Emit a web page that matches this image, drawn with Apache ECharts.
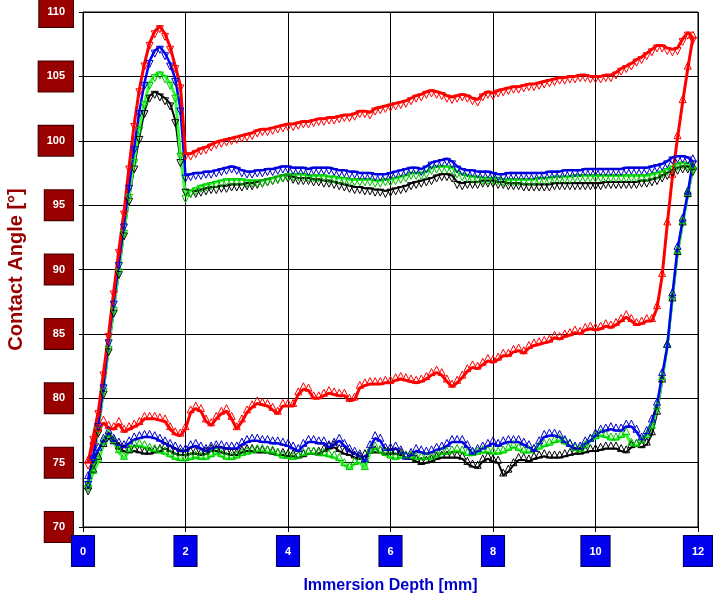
<!DOCTYPE html>
<html>
<head>
<meta charset="utf-8">
<script src="https://cdn.jsdelivr.net/npm/echarts@6/dist/echarts.min.js"></script>
<style>
  html, body { margin: 0; padding: 0; background: #fff; }
  #chart { width: 713px; height: 600px; }
</style>
</head>
<body>
<div id="chart"></div>
<script>
// immersion depth [mm], shared by every branch
var depth = [
  0.1, 0.2, 0.3, 0.4, 0.5, 0.6, 0.7, 0.8, 0.9, 1.0,
  1.1, 1.2, 1.3, 1.4, 1.5, 1.6, 1.7, 1.8, 1.9, 2.0,
  2.1, 2.2, 2.3, 2.4, 2.5, 2.6, 2.7, 2.8, 2.9, 3.0,
  3.1, 3.2, 3.3, 3.4, 3.5, 3.6, 3.7, 3.8, 3.9, 4.0,
  4.1, 4.2, 4.3, 4.4, 4.5, 4.6, 4.7, 4.8, 4.9, 5.0,
  5.1, 5.2, 5.3, 5.4, 5.5, 5.6, 5.7, 5.8, 5.9, 6.0,
  6.1, 6.2, 6.3, 6.4, 6.5, 6.6, 6.7, 6.8, 6.9, 7.0,
  7.1, 7.2, 7.3, 7.4, 7.5, 7.6, 7.7, 7.8, 7.9, 8.0,
  8.1, 8.2, 8.3, 8.4, 8.5, 8.6, 8.7, 8.8, 8.9, 9.0,
  9.1, 9.2, 9.3, 9.4, 9.5, 9.6, 9.7, 9.8, 9.9, 10.0,
  10.1, 10.2, 10.3, 10.4, 10.5, 10.6, 10.7, 10.8, 10.9, 11.0,
  11.1, 11.2, 11.3, 11.4, 11.5, 11.6, 11.7, 11.8, 11.9
];

// upper branch (down triangles) and lower branch (up triangles) per run
var redUp = [
  75.0, 77.0, 79.0, 82.0, 85.0, 88.3, 91.5, 94.5, 98.0, 101.3,
  104.0, 106.0, 107.6, 108.5, 108.9, 108.3, 107.3, 105.8, 104.3, 99.0,
  99.0, 99.2, 99.4, 99.5, 99.7, 99.9, 100.0, 100.1, 100.2, 100.3,
  100.4, 100.5, 100.6, 100.8, 100.9, 100.9, 101.0, 101.1, 101.2, 101.3,
  101.3, 101.4, 101.5, 101.5, 101.6, 101.7, 101.7, 101.8, 101.8, 101.9,
  102.0, 102.0, 102.1, 102.3, 102.3, 102.2, 102.5, 102.6, 102.7, 102.8,
  102.9, 103.0, 103.1, 103.3, 103.5, 103.6, 103.8, 103.9, 103.8, 103.7,
  103.5, 103.4, 103.5, 103.6, 103.5, 103.3, 103.2, 103.6, 103.8, 103.7,
  103.9, 104.0, 104.1, 104.2, 104.2, 104.3, 104.4, 104.4, 104.5, 104.6,
  104.7, 104.8, 104.9, 104.9, 105.0, 105.0, 105.1, 105.1, 105.0, 105.0,
  105.0, 105.1, 105.1, 105.3, 105.6, 105.8, 106.0, 106.3, 106.5, 106.8,
  107.1, 107.4, 107.4, 107.2, 107.1, 107.2, 107.9, 108.4, 108.0
];
var redLow = [
  75.0, 76.5, 77.5, 78.1, 77.7, 77.6, 78.0, 77.4, 77.6, 77.8,
  78.0, 78.4, 78.4, 78.4, 78.3, 78.2, 77.6, 77.2, 77.1, 77.6,
  78.9, 79.2, 79.0, 78.2, 77.9, 78.4, 78.8, 79.0, 78.4, 77.6,
  78.2, 78.9, 79.3, 79.6, 79.5, 79.4, 79.1, 78.8, 79.4, 79.4,
  79.4, 80.3, 80.7, 80.6, 80.0, 80.0, 80.2, 80.4, 80.3, 80.2,
  80.2, 79.8, 79.9, 80.8, 81.0, 81.1, 81.1, 81.1, 81.2, 81.2,
  81.4, 81.5, 81.4, 81.3, 81.2, 81.3, 81.5, 81.8, 82.0, 81.8,
  81.3, 80.9, 81.2, 81.6, 82.1, 82.4, 82.3, 82.6, 82.9, 82.8,
  83.0, 83.3, 83.3, 83.6, 83.7, 83.5, 83.9, 84.1, 84.2, 84.3,
  84.4, 84.7, 84.6, 84.8, 84.9, 85.1, 85.0, 85.3, 85.4, 85.3,
  85.4, 85.6, 85.5, 85.7, 86.0, 86.3, 86.0, 85.7, 85.8, 86.0,
  86.0, 87.0, 89.5, 93.5, 97.2, 100.2, 103.0, 105.6, 108.0
];
var blueUp = [
  73.5, 75.5, 78.0, 81.0, 84.5, 87.5, 90.5, 93.5, 96.5, 99.5,
  102.3, 104.5, 106.2, 107.0, 107.3, 106.8, 106.0, 104.8, 102.5, 97.3,
  97.4, 97.5, 97.5, 97.6, 97.6, 97.7, 97.8, 97.9, 98.0, 97.9,
  97.7, 97.6, 97.6, 97.7, 97.7, 97.8, 97.8, 97.9, 98.0, 98.0,
  97.9, 97.9, 97.9, 97.8, 97.9, 97.9, 97.9, 97.9, 97.8, 97.7,
  97.7, 97.6, 97.6, 97.5, 97.5, 97.5, 97.4, 97.4, 97.4, 97.5,
  97.6, 97.7, 97.8, 97.9, 97.9, 97.8, 98.0, 98.3, 98.4, 98.5,
  98.6, 98.4, 98.0, 97.8, 97.7, 97.7, 97.6, 97.6, 97.6, 97.5,
  97.4, 97.4, 97.5, 97.5, 97.5, 97.5, 97.5, 97.5, 97.5, 97.5,
  97.6, 97.6, 97.6, 97.7, 97.7, 97.7, 97.7, 97.8, 97.8, 97.8,
  97.8, 97.8, 97.8, 97.8, 97.8, 97.9, 97.9, 97.9, 97.9, 97.9,
  98.0, 98.1, 98.2, 98.4, 98.7, 98.8, 98.8, 98.7, 98.4
];
var blueLow = [
  73.8, 75.2, 76.0, 76.7, 77.3, 76.7, 76.4, 76.2, 76.5, 76.8,
  76.9, 77.0, 77.0, 76.9, 76.7, 76.5, 76.3, 76.1, 75.9, 75.9,
  76.2, 76.3, 76.1, 75.9, 76.1, 76.2, 76.2, 76.1, 76.1, 76.1,
  76.4, 76.6, 76.7, 76.7, 76.6, 76.6, 76.5, 76.5, 76.4, 76.3,
  76.1, 75.9, 76.3, 76.6, 76.6, 76.5, 76.5, 76.2, 76.4, 76.7,
  76.3, 75.9, 75.7, 75.5, 75.1, 76.2, 76.9, 76.7, 76.0, 76.0,
  76.1, 75.8, 75.3, 75.6, 75.9, 75.8, 75.7, 75.8, 76.0, 76.1,
  76.3, 76.6, 76.6, 76.6, 76.2, 75.7, 75.9, 76.1, 76.3, 76.5,
  76.3, 76.5, 76.6, 76.6, 76.6, 76.4, 76.2, 75.9, 76.5, 77.0,
  77.1, 77.1, 77.0, 76.6, 76.3, 76.1, 76.1, 76.5, 76.7, 77.1,
  77.4, 77.5, 77.6, 77.5, 77.5, 77.8, 77.8, 77.4, 76.8, 77.3,
  78.2, 79.5, 81.8, 84.0, 88.0, 91.6, 93.8, 95.9, 98.4
];
var greenUp = [
  73.2, 75.2, 77.7, 80.7, 84.0, 87.0, 90.0, 93.0, 95.8, 98.5,
  101.0, 103.0, 104.5, 105.1, 105.3, 105.0, 104.5, 103.5, 99.0, 95.7,
  96.1, 96.3, 96.5, 96.6, 96.7, 96.8, 96.9, 97.0, 97.0, 97.0,
  97.0, 96.9, 96.9, 96.9, 96.9, 97.0, 97.1, 97.2, 97.3, 97.4,
  97.4, 97.4, 97.4, 97.3, 97.3, 97.3, 97.3, 97.2, 97.2, 97.1,
  97.1, 97.0, 97.0, 97.0, 97.0, 97.0, 96.9, 96.9, 97.0, 97.0,
  97.1, 97.2, 97.3, 97.5, 97.5, 97.5, 97.6, 97.9, 98.0, 98.0,
  98.0, 97.9, 97.6, 97.4, 97.3, 97.2, 97.2, 97.1, 97.1, 97.1,
  97.1, 97.0, 97.0, 97.0, 97.0, 97.0, 97.0, 97.0, 97.1, 97.1,
  97.1, 97.2, 97.2, 97.2, 97.2, 97.3, 97.3, 97.3, 97.3, 97.3,
  97.3, 97.3, 97.3, 97.3, 97.3, 97.3, 97.3, 97.3, 97.3, 97.3,
  97.4, 97.5, 97.6, 97.8, 98.0, 98.2, 98.3, 98.2, 97.9
];
var greenLow = [
  73.2, 74.2, 75.1, 76.5, 77.1, 76.6, 75.8, 75.3, 75.9, 76.3,
  76.3, 76.2, 76.0, 75.9, 75.8, 75.7, 75.5, 75.3, 75.2, 75.2,
  75.3, 75.4, 75.3, 75.3, 75.5, 75.7, 75.5, 75.3, 75.3, 75.4,
  75.6, 75.7, 75.8, 75.9, 75.9, 75.8, 75.8, 75.6, 75.4, 75.4,
  75.3, 75.4, 75.6, 75.7, 75.7, 75.6, 75.6, 75.5, 75.4, 75.2,
  74.8, 74.5, 74.9, 75.0, 74.5, 75.8, 76.1, 75.8, 75.6, 75.4,
  75.3, 75.4, 75.4, 75.4, 75.3, 75.3, 75.3, 75.3, 75.5, 75.7,
  75.7, 75.8, 75.9, 75.8, 75.6, 75.6, 75.7, 75.8, 75.8, 75.7,
  75.7, 75.8, 76.0, 76.2, 76.0, 75.8, 75.8, 75.9, 76.1, 76.3,
  76.4, 76.6, 76.7, 76.5, 76.3, 76.0, 75.9, 76.2, 76.7, 76.9,
  77.1, 77.0, 76.8, 76.8, 77.0, 77.2, 76.4, 76.3, 76.6, 77.0,
  77.7, 79.2, 81.5, 84.0, 87.8, 91.3, 93.6, 95.8, 97.9
];
var blackUp = [
  73.0, 75.0, 77.5, 80.5, 83.8, 86.8, 89.8, 92.8, 95.5, 98.0,
  100.3, 102.3, 103.5, 103.8, 103.6, 103.3, 102.9, 101.6, 98.5, 96.2,
  96.1, 96.1, 96.2, 96.3, 96.4, 96.4, 96.5, 96.5, 96.6, 96.6,
  96.6, 96.7, 96.7, 96.8, 96.9, 97.0, 97.1, 97.2, 97.3, 97.3,
  97.2, 97.1, 97.1, 97.1, 97.0, 97.0, 96.9, 96.9, 96.8, 96.7,
  96.6, 96.5, 96.4, 96.4, 96.3, 96.3, 96.2, 96.2, 96.1, 96.2,
  96.3, 96.4, 96.5, 96.7, 96.8, 96.9, 97.0, 97.1, 97.3, 97.4,
  97.4, 97.3, 96.8, 96.7, 96.8, 96.8, 96.8, 96.9, 96.9, 96.9,
  96.8, 96.8, 96.7, 96.7, 96.7, 96.6, 96.6, 96.6, 96.6, 96.6,
  96.6, 96.7, 96.7, 96.7, 96.7, 96.7, 96.7, 96.7, 96.7, 96.7,
  96.7, 96.8, 96.8, 96.8, 96.8, 96.8, 96.8, 96.8, 96.9, 96.9,
  97.0, 97.1, 97.3, 97.5, 97.7, 97.9, 98.0, 98.0, 97.8
];
var blackLow = [
  73.0, 74.3, 75.3, 76.3, 76.9, 76.5, 76.1, 75.9, 75.8, 75.9,
  75.8, 75.7, 75.7, 75.8, 75.9, 76.1, 75.9, 75.7, 75.6, 75.6,
  75.7, 75.7, 75.6, 75.7, 75.9, 75.9, 75.8, 75.7, 75.6, 75.6,
  75.8, 75.9, 75.9, 75.8, 75.8, 75.8, 75.7, 75.6, 75.6, 75.5,
  75.5, 75.4, 75.5, 75.7, 75.7, 75.7, 75.9, 76.1, 76.2, 75.9,
  75.7, 75.6, 75.4, 75.3, 75.5, 75.8, 75.8, 75.8, 75.7, 75.7,
  75.7, 75.6, 75.4, 75.3, 75.1, 74.9, 75.0, 75.1, 75.3, 75.4,
  75.4, 75.4, 75.4, 75.3, 74.9, 74.7, 74.6, 75.1, 75.3, 75.1,
  75.0, 74.0, 74.3, 74.8, 75.2, 75.2, 75.1, 75.3, 75.4, 75.5,
  75.4, 75.4, 75.4, 75.5, 75.6, 75.7, 75.7, 75.8, 75.9, 75.9,
  76.0, 76.1, 76.1, 76.1, 75.9, 75.8, 76.2, 76.3, 76.2, 76.4,
  77.2, 78.8, 81.3, 84.0, 87.6, 91.2, 93.5, 95.7, 97.8
];

var xTicks = [0, 2, 4, 6, 8, 10, 12];
var yTicks = [70, 75, 80, 85, 90, 95, 100, 105, 110];

var myChart = echarts.init(document.getElementById('chart'));

function pairs(vals) {
  return vals.map(function (v, i) { return [depth[i], v]; });
}

// one branch of a hysteresis loop
function branch(vals, lineColor, markColor, width, down) {
  return {
    type: 'line',
    data: pairs(vals),
    showSymbol: true,
    showAllSymbol: true,
    symbol: 'triangle',
    symbolSize: 7,
    symbolRotate: down ? 180 : 0,
    symbolOffset: [0, down ? 3 : -3],
    lineStyle: { color: lineColor, width: width },
    itemStyle: { color: 'rgba(0,0,0,0)', borderColor: markColor, borderWidth: 1 },
    emphasis: { disabled: true },
    z: 2
  };
}

var option = {
  animation: false,
  backgroundColor: '#fff',
  grid: {
    left: 83, right: 15, top: 12, bottom: 73,
    outerBoundsMode: 'none',
    containLabel: false,
    show: true, borderColor: '#000', borderWidth: 1
  },
  xAxis: {
    type: 'value',
    min: 0, max: 12, interval: 2,
    name: 'Immersion Depth [mm]',
    nameLocation: 'middle',
    nameGap: 51,
    nameTextStyle: { color: '#0000cc', fontSize: 16, fontWeight: 'bold', fontFamily: 'Liberation Sans, Arial' },
    axisLine: { lineStyle: { color: '#000', width: 1 } },
    axisTick: { show: true, length: 5, lineStyle: { color: '#000' } },
    splitLine: { show: true, lineStyle: { color: '#000', width: 1 } },
    axisLabel: {
      margin: 9,
      color: '#fff',
      fontSize: 11,
      fontWeight: 'bold',
      fontFamily: 'Liberation Sans, Arial',
      backgroundColor: '#0000ee',
      borderColor: '#000055',
      borderWidth: 1,
      padding: [10, 8, 9, 8],
      formatter: function (v) { return xTicks.indexOf(v) >= 0 ? String(v) : ''; }
    }
  },
  yAxis: {
    type: 'value',
    min: 70, max: 110, interval: 5,
    name: 'Contact Angle [°]',
    nameLocation: 'middle',
    nameGap: 55,
    nameTextStyle: { color: '#990000', fontSize: 20, fontWeight: 'bold', fontFamily: 'Liberation Sans, Arial' },
    axisLine: { show: true, lineStyle: { color: '#000', width: 1 } },
    axisTick: { show: true, length: 4, lineStyle: { color: '#000' } },
    splitLine: { show: true, lineStyle: { color: '#000', width: 1 } },
    axisLabel: {
      margin: 10,
      color: '#fff',
      fontSize: 11,
      fontWeight: 'bold',
      fontFamily: 'Liberation Sans, Arial',
      backgroundColor: '#990000',
      borderColor: '#3a0000',
      borderWidth: 1,
      padding: [10, 8, 9, 8],
      formatter: function (v) { return yTicks.indexOf(v) >= 0 ? String(v) : ''; }
    }
  },
  series: [
    branch(blackUp, '#000000', '#000000', 2, true),
    branch(blackLow, '#000000', '#000000', 2, false),
    branch(greenUp, '#33ff33', '#00c000', 3, true),
    branch(greenLow, '#33ff33', '#00c000', 3, false),
    branch(blueUp, '#0000ff', '#0000cc', 2.5, true),
    branch(blueLow, '#0000ff', '#0000cc', 2.5, false),
    branch(redUp, '#ff0000', '#ff0000', 3, true),
    branch(redLow, '#ff0000', '#ff0000', 3, false)
  ]
};

myChart.setOption(option);
</script>
</body>
</html>
